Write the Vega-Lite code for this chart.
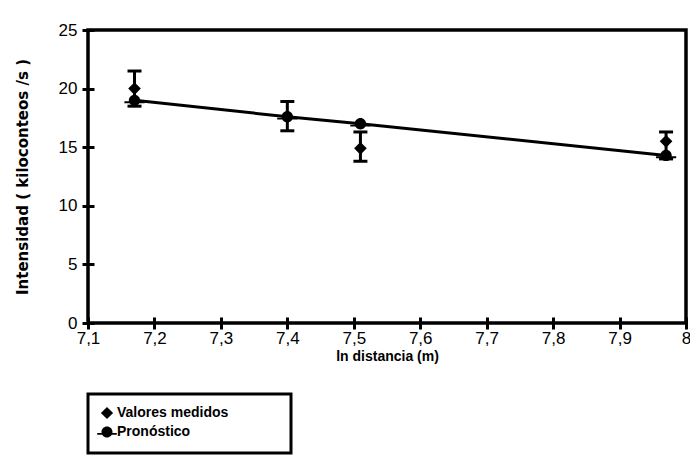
{
  "$schema": "https://vega.github.io/schema/vega-lite/v6.json",
  "width": 598,
  "height": 293,
  "autosize": "none",
  "padding": {"left": 88, "top": 30, "right": 4, "bottom": 134},
  "background": "white",
  "config": {
    "view": {"stroke": "black", "strokeWidth": 3.5},
    "axis": {
      "domain": false,
      "offset": -6,
      "tickSize": 12,
      "tickWidth": 3,
      "tickColor": "black",
      "grid": false,
      "labelFont": "Liberation Sans",
      "labelFontSize": 17,
      "labelColor": "black",
      "labelOverlap": false,
      "labelFlush": false,
      "titleFont": "Liberation Sans",
      "titleFontSize": 14,
      "titleFontWeight": "bold",
      "titleColor": "black"
    },
    "legend": {
      "orient": "none",
      "legendX": 0,
      "legendY": 364,
      "strokeColor": "black",
      "strokeWidth": 3,
      "padding": 12,
      "labelFont": "Liberation Sans",
      "labelFontSize": 14,
      "labelFontWeight": "bold",
      "labelColor": "black",
      "labelLimit": 400,
      "symbolSize": 150,
      "symbolFillColor": "black",
      "symbolStrokeColor": "black",
      "rowPadding": 0,
      "labelOffset": 3
    }
  },
  "datasets": {
    "puntos": [
      {"x": 7.17, "y": 20.0, "serie": "Valores medidos"},
      {"x": 7.40, "y": 17.6, "serie": "Valores medidos"},
      {"x": 7.51, "y": 14.9, "serie": "Valores medidos"},
      {"x": 7.97, "y": 15.5, "serie": "Valores medidos"},
      {"x": 7.17, "y": 19.0, "serie": "Pronóstico"},
      {"x": 7.40, "y": 17.6, "serie": "Pronóstico"},
      {"x": 7.51, "y": 17.0, "serie": "Pronóstico"},
      {"x": 7.97, "y": 14.3, "serie": "Pronóstico"}
    ],
    "errores": [
      {"x": 7.17, "lo": 18.5, "hi": 21.5},
      {"x": 7.40, "lo": 16.4, "hi": 18.9},
      {"x": 7.51, "lo": 13.8, "hi": 16.3},
      {"x": 7.97, "lo": 14.0, "hi": 16.3}
    ]
  },
  "encoding": {
    "x": {
      "field": "x",
      "type": "quantitative",
      "scale": {"domain": [7.1, 8], "nice": false, "zero": false},
      "axis": {
        "values": [7.1, 7.2, 7.3, 7.4, 7.5, 7.6, 7.7, 7.8, 7.9, 8],
        "labelExpr": "replace(format(datum.value, '.1~f'), '.', ',')",
        "title": "ln distancia (m)",
        "labelPadding": 1,
        "titlePadding": 3
      }
    }
  },
  "layer": [
    {
      "data": {"name": "errores"},
      "mark": {"type": "rule", "color": "black", "strokeWidth": 3},
      "encoding": {
        "y": {
          "field": "lo",
          "type": "quantitative",
          "scale": {"domain": [0, 25], "nice": false},
          "axis": {
            "values": [0, 5, 10, 15, 20, 25],
            "title": "Intensidad ( kiloconteos /s )",
            "titleFont": "DejaVu Sans",
            "titleFontSize": 15,
            "labelPadding": 5,
            "titlePadding": 28
          }
        },
        "y2": {"field": "hi"}
      }
    },
    {
      "data": {"name": "errores"},
      "mark": {"type": "tick", "orient": "horizontal", "size": 14, "thickness": 3, "color": "black", "opacity": 1},
      "encoding": {"y": {"field": "hi", "type": "quantitative"}}
    },
    {
      "data": {"name": "errores"},
      "mark": {"type": "tick", "orient": "horizontal", "size": 14, "thickness": 3, "color": "black", "opacity": 1},
      "encoding": {"y": {"field": "lo", "type": "quantitative"}}
    },
    {
      "data": {"name": "puntos"},
      "transform": [{"filter": "datum.serie === 'Pronóstico'"}],
      "mark": {"type": "line", "color": "black", "strokeWidth": 3},
      "encoding": {"y": {"field": "y", "type": "quantitative"}}
    },
    {
      "data": {"name": "puntos"},
      "mark": {"type": "point", "filled": true, "color": "black", "size": 160, "opacity": 1},
      "encoding": {
        "y": {"field": "y", "type": "quantitative"},
        "shape": {
          "field": "serie",
          "type": "nominal",
          "scale": {
            "domain": ["Valores medidos", "Pronóstico"],
            "range": ["diamond", "M-1.6,0.15L1.6,0.15L1.6,0.45L-1.6,0.45Z M0.9,0 A0.9,0.9 0 1,1 -0.9,0 A0.9,0.9 0 1,1 0.9,0Z"]
          },
          "legend": {
            "title": null,
            "labelExpr": "datum.label + '\u2800\u2800\u2800\u2800\u2800'"
          }
        }
      }
    }
  ]
}
